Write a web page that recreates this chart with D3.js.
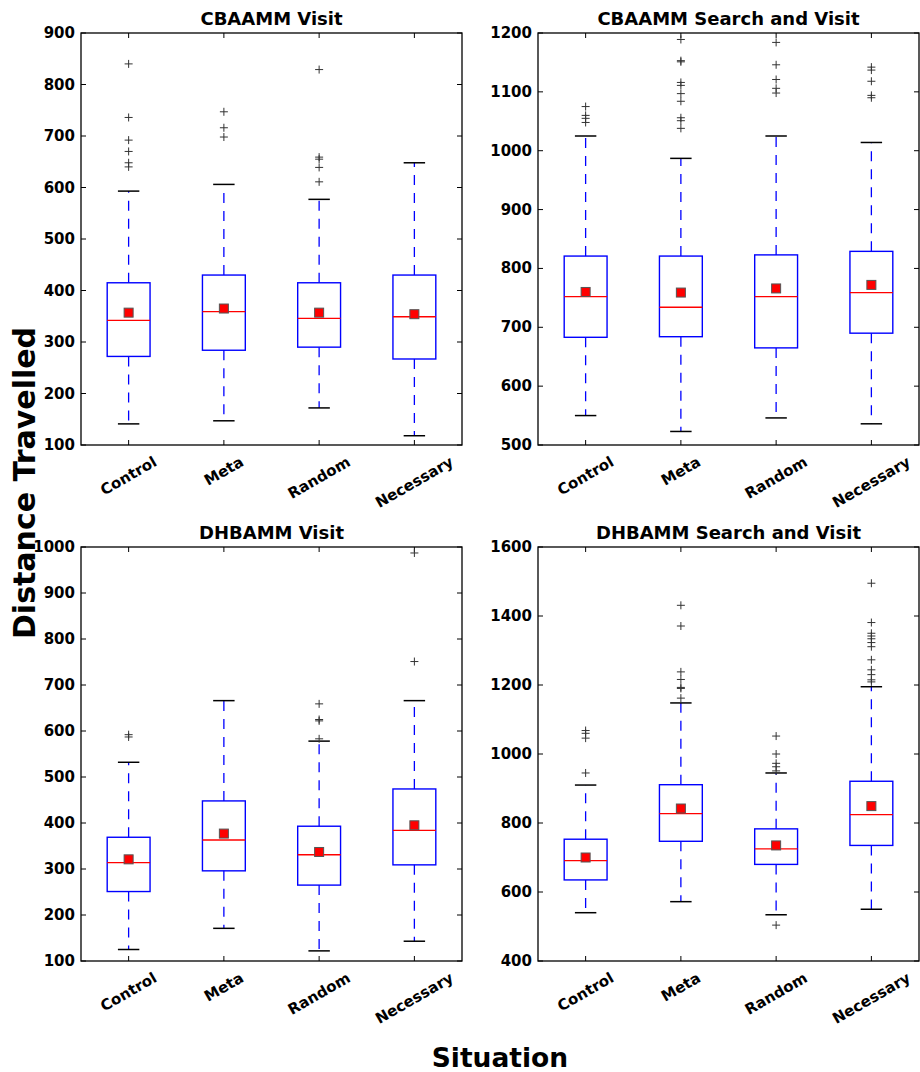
<!DOCTYPE html>
<html>
<head>
<meta charset="utf-8">
<script src="https://cdn.jsdelivr.net/npm/d3@7"></script>
<style>
  body { margin: 0; background: #fff; }
  svg { display: block; font-family: "DejaVu Sans", sans-serif; }
</style>
</head>
<body>
<svg id="chart" width="920" height="1072"></svg>
<script>
const situations = ["Control", "Meta", "Random", "Necessary"];
const titles = ["CBAAMM Visit", "CBAAMM Search and Visit", "DHBAMM Visit", "DHBAMM Search and Visit"];

// per situation: [low whisker, q1, median, q3, high whisker, mean]
const cbaammVisit = [
  [141, 272, 342, 415, 593, 357],
  [147, 284, 359, 430, 606, 365],
  [172, 290, 346, 415, 577, 357],
  [118, 267, 349, 430, 648, 354]
];
const cbaammVisitFliers = [
  [840, 736, 692, 670, 648, 640],
  [747, 716, 698],
  [829, 659, 655, 639, 611],
  []
];

const cbaammSearch = [
  [550, 683, 752, 821, 1025, 760],
  [523, 684, 734, 821, 987, 759],
  [546, 665, 752, 823, 1025, 766],
  [536, 690, 759, 829, 1014, 772]
];
const cbaammSearchFliers = [
  [1075, 1060, 1055, 1048],
  [1189, 1153, 1151, 1116, 1111, 1097, 1084, 1056, 1051, 1038],
  [1184, 1146, 1121, 1106, 1098],
  [1142, 1137, 1118, 1094, 1090]
];

const dhbammVisit = [
  [125, 251, 314, 369, 532, 321],
  [171, 296, 363, 448, 666, 377],
  [122, 265, 331, 393, 578, 337],
  [143, 309, 384, 474, 666, 395]
];
const dhbammVisitFliers = [
  [592, 587],
  [],
  [659, 625, 622, 583],
  [987, 751]
];

const dhbammSearch = [
  [540, 635, 691, 753, 910, 700],
  [572, 747, 827, 911, 1148, 842],
  [534, 680, 725, 783, 945, 735],
  [550, 735, 824, 921, 1195, 849]
];
const dhbammSearchFliers = [
  [1068, 1060, 1046, 945],
  [1431, 1371, 1238, 1216, 1193, 1190, 1162],
  [1052, 1000, 973, 963, 951, 504],
  [1495, 1381, 1350, 1342, 1334, 1323, 1311, 1273, 1244, 1230, 1215, 1209]
];

const cbaammVisitTicks = [100, 200, 300, 400, 500, 600, 700, 800, 900];
const cbaammSearchTicks = [500, 600, 700, 800, 900, 1000, 1100, 1200];
const dhbammVisitTicks = [100, 200, 300, 400, 500, 600, 700, 800, 900, 1000];
const dhbammSearchTicks = [400, 600, 800, 1000, 1200, 1400, 1600];

const panels = [
  { stats: cbaammVisit, fliers: cbaammVisitFliers, ticks: cbaammVisitTicks, x0: 81, x1: 462, y0: 33, y1: 445 },
  { stats: cbaammSearch, fliers: cbaammSearchFliers, ticks: cbaammSearchTicks, x0: 538, x1: 919, y0: 33, y1: 445 },
  { stats: dhbammVisit, fliers: dhbammVisitFliers, ticks: dhbammVisitTicks, x0: 81, x1: 462, y0: 547, y1: 961 },
  { stats: dhbammSearch, fliers: dhbammSearchFliers, ticks: dhbammSearchTicks, x0: 538, x1: 919, y0: 547, y1: 961 }
];

const svg = d3.select("#chart");
const tickLen = 5;

panels.forEach((p, i) => {
  const g = svg.append("g");
  const x = d3.scaleBand().domain(situations).range([p.x0, p.x1]);
  const y = d3.scaleLinear().domain(d3.extent(p.ticks)).range([p.y1, p.y0]);
  const bw = x.bandwidth();
  const cx = d => x(d) + bw / 2;
  const boxW = bw * 0.45, capW = boxW / 2;

  // ticks, inward on all sides
  const tg = g.append("g").attr("stroke", "#000").attr("stroke-width", 1);
  p.ticks.forEach(t => {
    tg.append("line").attr("x1", p.x0).attr("x2", p.x0 + tickLen).attr("y1", y(t)).attr("y2", y(t));
    tg.append("line").attr("x1", p.x1).attr("x2", p.x1 - tickLen).attr("y1", y(t)).attr("y2", y(t));
  });
  situations.forEach(s => {
    tg.append("line").attr("x1", cx(s)).attr("x2", cx(s)).attr("y1", p.y1).attr("y2", p.y1 - tickLen);
    tg.append("line").attr("x1", cx(s)).attr("x2", cx(s)).attr("y1", p.y0).attr("y2", p.y0 + tickLen);
  });

  // y tick labels
  g.append("g").selectAll("text").data(p.ticks).join("text")
    .attr("x", p.x0 - 6).attr("y", d => y(d))
    .attr("text-anchor", "end").attr("dominant-baseline", "central")
    .attr("font-size", 15).attr("font-weight", "bold")
    .text(d => d);

  // x tick labels, rotated 30deg, bbox centred on tick
  g.append("g").selectAll("text").data(situations).join("text")
    .attr("text-anchor", "middle").attr("dominant-baseline", "central")
    .attr("font-size", 15).attr("font-weight", "bold")
    .text(d => d)
    .attr("transform", function(d) {
      const w = this.getComputedTextLength();
      const h = 15;
      const bh = w * 0.5 + h * 0.866;
      return `translate(${cx(d)},${p.y1 + 9 + bh / 2}) rotate(-30)`;
    });

  // title
  g.append("text")
    .attr("x", (p.x0 + p.x1) / 2).attr("y", p.y0 - 8)
    .attr("text-anchor", "middle")
    .attr("font-size", 18).attr("font-weight", "bold")
    .text(titles[i]);

  const boxes = g.append("g").selectAll("g").data(p.stats).join("g");

  // whiskers
  boxes.append("line")
    .attr("x1", (d, j) => cx(situations[j])).attr("x2", (d, j) => cx(situations[j]))
    .attr("y1", d => y(d[3])).attr("y2", d => y(d[4]))
    .attr("stroke", "#0000ff").attr("stroke-width", 1.3).attr("stroke-dasharray", "10,8");
  boxes.append("line")
    .attr("x1", (d, j) => cx(situations[j])).attr("x2", (d, j) => cx(situations[j]))
    .attr("y1", d => y(d[1])).attr("y2", d => y(d[0]))
    .attr("stroke", "#0000ff").attr("stroke-width", 1.3).attr("stroke-dasharray", "10,8");

  // caps
  [0, 4].forEach(k => {
    boxes.append("line")
      .attr("x1", (d, j) => cx(situations[j]) - capW / 2).attr("x2", (d, j) => cx(situations[j]) + capW / 2)
      .attr("y1", d => y(d[k])).attr("y2", d => y(d[k]))
      .attr("stroke", "#000").attr("stroke-width", 1.5);
  });

  // box
  boxes.append("rect")
    .attr("x", (d, j) => cx(situations[j]) - boxW / 2).attr("width", boxW)
    .attr("y", d => y(d[3])).attr("height", d => y(d[1]) - y(d[3]))
    .attr("fill", "none").attr("stroke", "#0000ff").attr("stroke-width", 1.4);

  // median
  boxes.append("line")
    .attr("x1", (d, j) => cx(situations[j]) - boxW / 2).attr("x2", (d, j) => cx(situations[j]) + boxW / 2)
    .attr("y1", d => y(d[2])).attr("y2", d => y(d[2]))
    .attr("stroke", "#ff0000").attr("stroke-width", 1.3);

  // fliers
  p.fliers.forEach((arr, j) => {
    const fx = cx(situations[j]);
    const fg = g.append("g").attr("stroke", "#333").attr("stroke-width", 1);
    arr.forEach(v => {
      fg.append("line").attr("x1", fx - 4).attr("x2", fx + 4).attr("y1", y(v)).attr("y2", y(v));
      fg.append("line").attr("x1", fx).attr("x2", fx).attr("y1", y(v) - 4).attr("y2", y(v) + 4);
    });
  });

  // mean markers
  boxes.append("rect")
    .attr("x", (d, j) => cx(situations[j]) - 4.5).attr("width", 9)
    .attr("y", d => y(d[5]) - 4.5).attr("height", 9)
    .attr("fill", "#ff0000").attr("stroke", "#555").attr("stroke-width", 1);

  // frame
  g.append("rect")
    .attr("x", p.x0).attr("y", p.y0).attr("width", p.x1 - p.x0).attr("height", p.y1 - p.y0)
    .attr("fill", "none").attr("stroke", "#000").attr("stroke-width", 1.3);
});

svg.append("text")
  .attr("transform", "translate(35,483) rotate(-90)")
  .attr("text-anchor", "middle")
  .attr("font-size", 30).attr("font-weight", "bold")
  .text("Distance Travelled");

svg.append("text")
  .attr("x", 500).attr("y", 1067)
  .attr("text-anchor", "middle")
  .attr("font-size", 26.5).attr("font-weight", "bold")
  .text("Situation");
</script>
</body>
</html>
